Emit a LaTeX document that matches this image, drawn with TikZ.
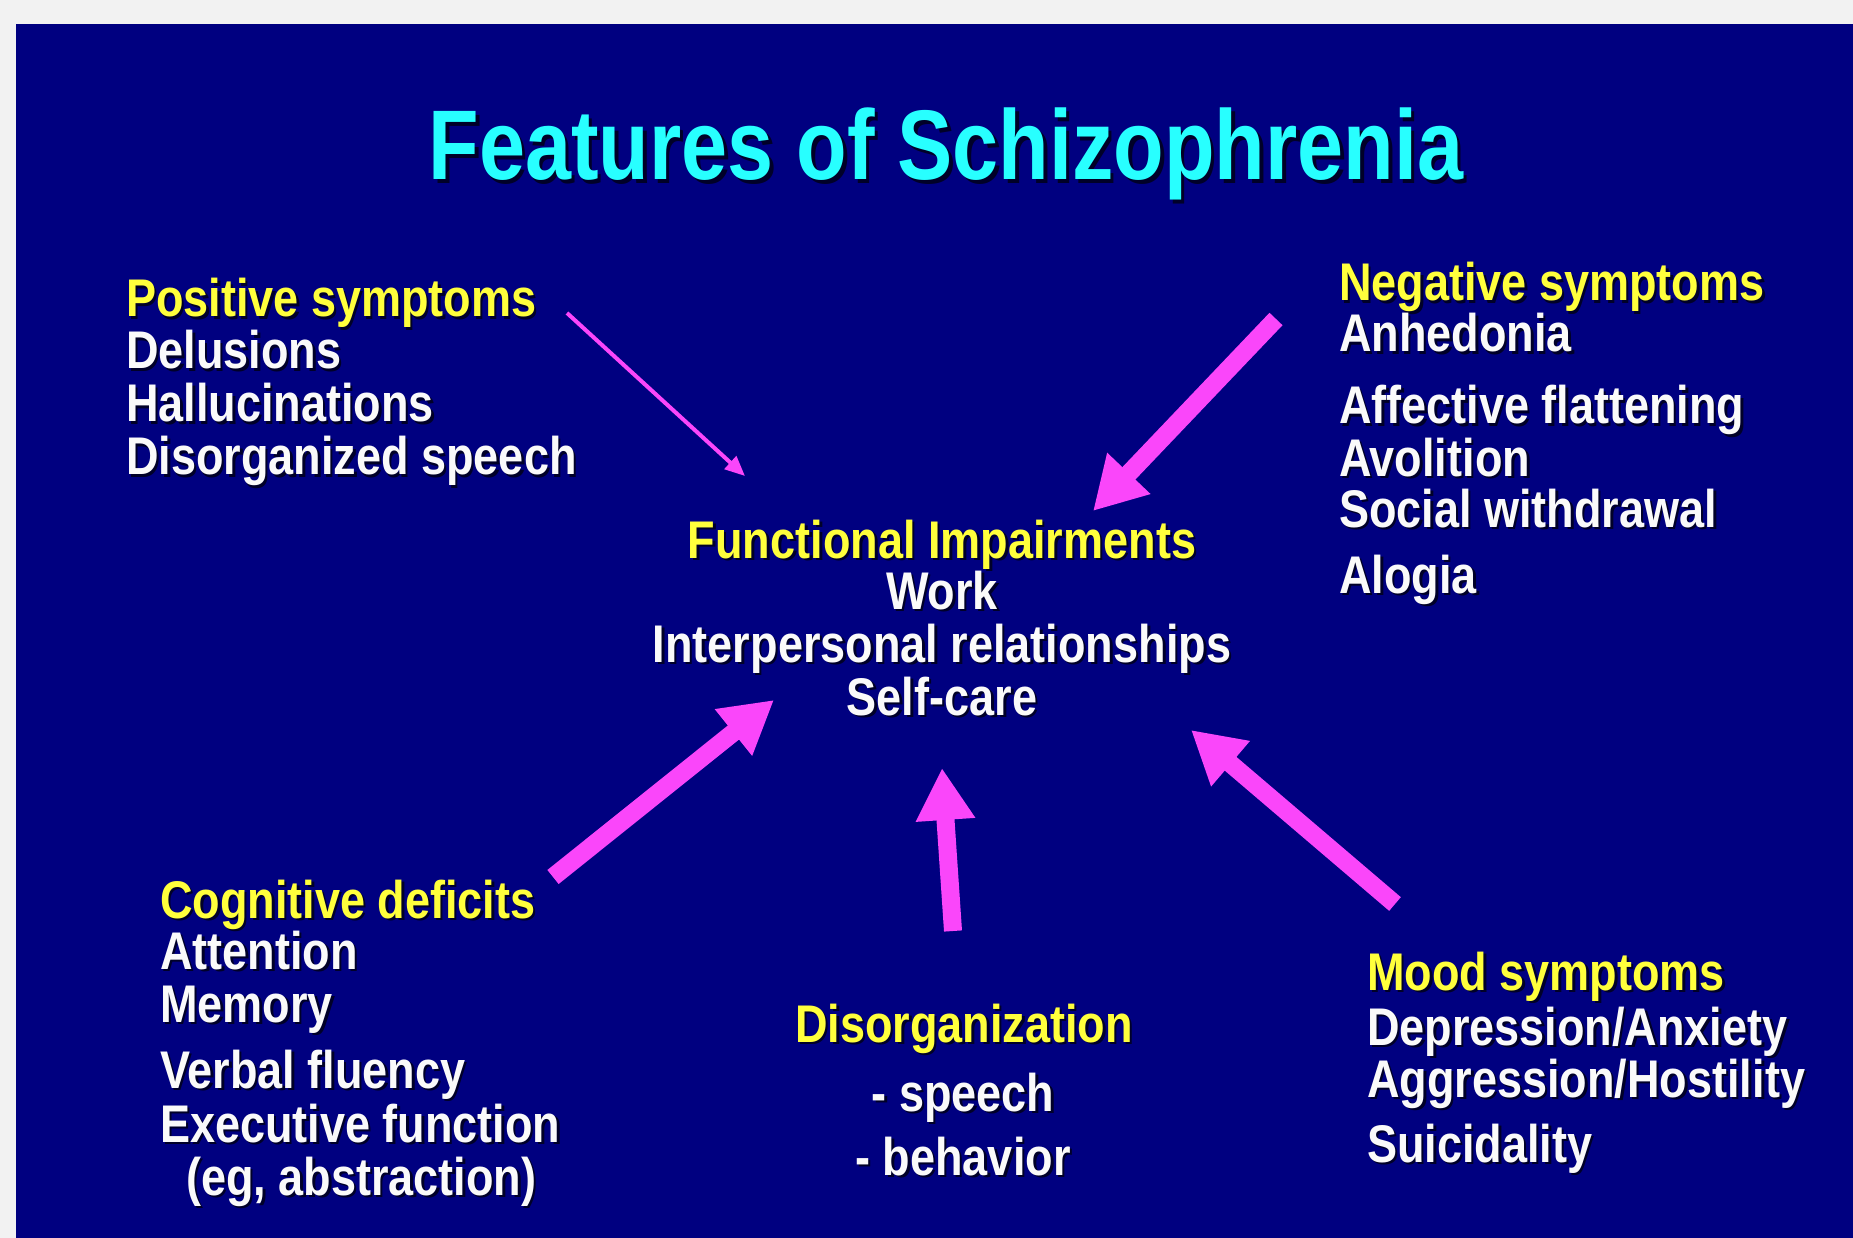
\documentclass[tikz,border=0pt]{standalone}
\usepackage{fontspec}
\newfontfamily\nb[FakeStretch=0.85]{Liberation Sans}
\newfontfamily\nbt[FakeStretch=0.836]{Liberation Sans}
\usetikzlibrary{arrows.meta}
\definecolor{pagebg}{RGB}{242,242,242}
\definecolor{slidebg}{RGB}{0,0,128}
\definecolor{ttl}{RGB}{40,255,255}
\definecolor{hdr}{RGB}{255,255,60}
\definecolor{bodyw}{RGB}{250,250,250}
\definecolor{arr}{RGB}{250,70,250}
\definecolor{shd}{RGB}{0,0,40}
\newcommand\shadowed[2]{\rlap{\kern#1\raisebox{-#1}{\color{shd}#2}}#2}
\newcommand\slline[6]{%
  \node[txt,text=#5,anchor=#4] (#1) at (#2,#3) {\shadowed{2.5pt}{#6}};}
\begin{document}
\begin{tikzpicture}[x=1pt,y=-1pt,
  txt/.style={inner sep=0pt,outer sep=0pt,font=\nb\bfseries\fontsize{53}{53}\selectfont},
  ttxt/.style={inner sep=0pt,outer sep=0pt,font=\nbt\bfseries\fontsize{99}{99}\selectfont},
  blockarrow/.style={draw=arr,line width=18pt,-{Triangle[length=52pt,width=56pt]}},
  thinarrow/.style={draw=arr,line width=4pt,-{Triangle[length=20pt,width=17pt]}}]
\useasboundingbox (0,0) rectangle (1853,1238);
\fill[pagebg] (0,0) rectangle (1853,1238);
\fill[slidebg] (16,24) rectangle (1853,1238);
% title
\node[ttxt,text=ttl,anchor=base] (title) at (946,180) {\shadowed{3.5pt}{Features of Schizophrenia}};
% positive
\slline{pos}{126}{317}{base west}{hdr}{Positive symptoms}
\slline{pos1}{126}{369}{base west}{bodyw}{Delusions}
\slline{pos2}{126}{422}{base west}{bodyw}{Hallucinations}
\slline{pos3}{126}{475}{base west}{bodyw}{Disorganized speech}
% negative
\slline{neg}{1339}{301}{base west}{hdr}{Negative symptoms}
\slline{neg1}{1339}{352}{base west}{bodyw}{Anhedonia}
\slline{neg2}{1339}{424}{base west}{bodyw}{Affective flattening}
\slline{neg3}{1339}{476}{base west}{bodyw}{Avolition}
\slline{neg4}{1339}{527}{base west}{bodyw}{Social withdrawal}
\slline{neg5}{1339}{593}{base west}{bodyw}{Alogia}
% functional
\slline{fun}{942}{558}{base}{hdr}{Functional Impairments}
\slline{fun1}{942}{609}{base}{bodyw}{Work}
\slline{fun2}{942}{662}{base}{bodyw}{Interpersonal relationships}
\slline{fun3}{942}{715}{base}{bodyw}{Self-care}
% cognitive
\slline{cog}{160}{918}{base west}{hdr}{Cognitive deficits}
\slline{cog1}{160}{969}{base west}{bodyw}{Attention}
\slline{cog2}{160}{1022}{base west}{bodyw}{Memory}
\slline{cog3}{160}{1088}{base west}{bodyw}{Verbal fluency}
\slline{cog4}{160}{1142}{base west}{bodyw}{Executive function}
\slline{cog5}{186}{1195}{base west}{bodyw}{(eg, abstraction)}
% disorganization
\slline{dis}{964}{1042}{base}{hdr}{Disorganization}
\slline{dis1}{963}{1111}{base}{bodyw}{- speech}
\slline{dis2}{963}{1175}{base}{bodyw}{- behavior}
% mood
\slline{mood}{1367}{990}{base west}{hdr}{Mood symptoms}
\slline{mood1}{1367}{1045}{base west}{bodyw}{Depression/Anxiety}
\slline{mood2}{1367}{1097}{base west}{bodyw}{Aggression/Hostility}
\slline{mood3}{1367}{1162}{base west}{bodyw}{Suicidality}
% arrow ends
\coordinate (posT) at (567,313);  \coordinate (posH) at (745,476);
\coordinate (negT) at (1276,319); \coordinate (negH) at (1093,511);
\coordinate (cogT) at (553,877);  \coordinate (cogH) at (774,700);
\coordinate (disT) at (953,931);  \coordinate (disH) at (942,768);
\coordinate (moodT) at (1395,904); \coordinate (moodH) at (1191,730);
\draw[thinarrow] (posT) -- (posH);
\draw[blockarrow] (negT) -- (negH);
\draw[blockarrow] (cogT) -- (cogH);
\draw[blockarrow] (disT) -- (disH);
\draw[blockarrow] (moodT) -- (moodH);
\end{tikzpicture}
\end{document}
